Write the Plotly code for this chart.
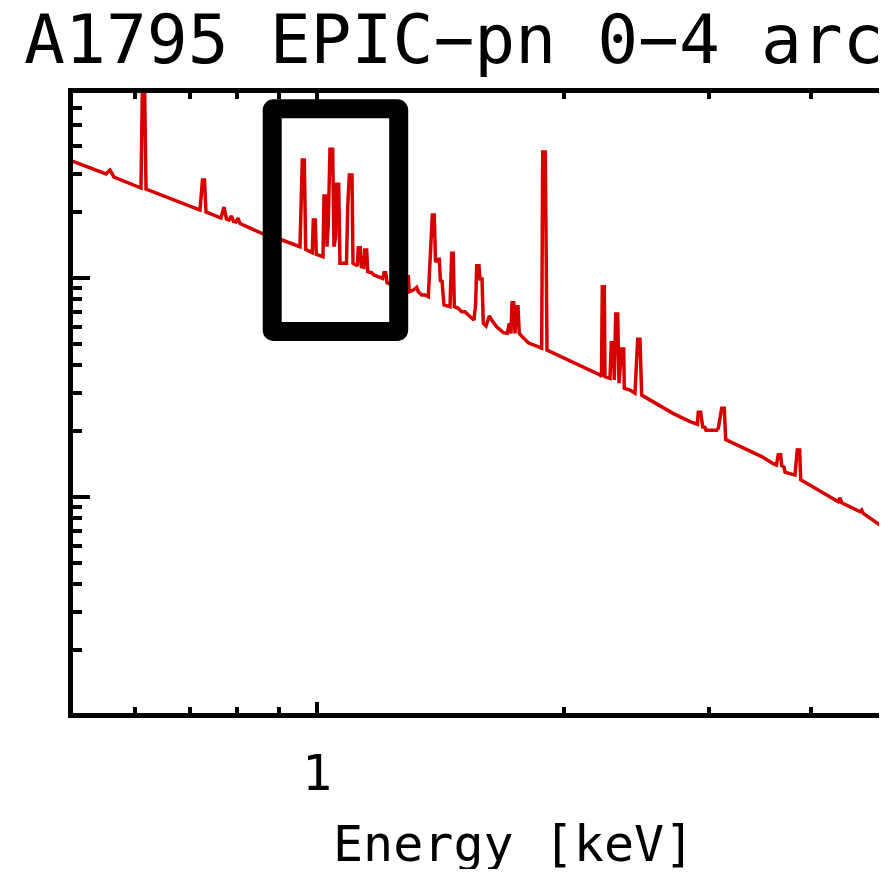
import plotly.graph_objects as go

# ---------------- data ----------------
energy_kev = [
    0.500, 0.5533, 0.5596, 0.5659, 0.6104, 0.6130, 0.6165, 0.6191,
    0.7203, 0.7253, 0.7294, 0.7325, 0.7640, 0.7704, 0.7758, 0.7813,
    0.7868, 0.7912, 0.7968, 0.8013, 0.8058, 0.8571, 0.9065, 0.9534,
    0.9596, 0.9650, 0.9688, 0.9806, 0.9869, 0.9897, 0.9952, 0.9980,
    1.0133, 1.0170, 1.0198, 1.0256, 1.0284, 1.0322, 1.0371, 1.0450,
    1.0488, 1.0538, 1.0568, 1.0628, 1.0666, 1.0863, 1.0900, 1.0949,
    1.1032, 1.1063, 1.1156, 1.1197, 1.1228, 1.1291, 1.1323, 1.1400,
    1.1432, 1.1496, 1.1528, 1.1659, 1.1734, 1.1876, 1.2024, 1.2068,
    1.2125, 1.2170, 1.2445, 1.2870, 1.2917, 1.2953, 1.3101, 1.3227,
    1.3286, 1.3414, 1.3538, 1.3664, 1.3818, 1.3896, 1.3943, 1.4029,
    1.4092, 1.4139, 1.4198, 1.4278, 1.4521, 1.4590, 1.4656, 1.4697,
    1.4863, 1.5005, 1.5145, 1.5286, 1.5532, 1.5606, 1.5650, 1.5751,
    1.5796, 1.5885, 1.5943, 1.6064, 1.6213, 1.6322, 1.6553, 1.6862,
    1.7052, 1.7148, 1.7230, 1.7279, 1.7361, 1.7425, 1.7488, 1.7572,
    1.7636, 1.7785, 1.7921, 1.8087, 1.8780, 1.8833, 1.8971, 1.9062,
    2.2116, 2.2209, 2.2259, 2.2384, 2.2428, 2.2745, 2.2828, 2.2956,
    2.3021, 2.3111, 2.3242, 2.3326, 2.3503, 2.3636, 2.3675, 2.4057,
    2.4396, 2.4582, 2.4741, 2.4859, 2.7140, 2.8466, 2.9071, 2.9136,
    2.9333, 2.9498, 2.9689, 2.9772, 3.0680, 3.0818, 3.1113, 3.1340,
    3.1464, 3.4807, 3.5957, 3.6281, 3.6464, 3.6711, 3.6815, 3.7053,
    3.7157, 3.8214, 3.8461, 3.8720, 3.8829, 4.3148, 4.3354, 4.3562,
    4.5856, 4.6075, 4.6282, 4.8501, 4.8733, 4.9463, 5.1299,
]

model_flux = [
    0.345, 0.2985, 0.3113, 0.2892, 0.2576, 0.80, 0.80, 0.2549,
    0.2044, 0.2802, 0.2802, 0.2002, 0.1879, 0.2110, 0.1860, 0.1840,
    0.1919, 0.1811, 0.1802, 0.1879, 0.1774, 0.1597, 0.1491, 0.1390,
    0.3458, 0.3458, 0.1352, 0.1319, 0.1305, 0.1840, 0.1840, 0.1283,
    0.1264, 0.1251, 0.2368, 0.2368, 0.1390, 0.1777, 0.3870, 0.3870,
    0.1390, 0.1544, 0.2678, 0.2678, 0.1167, 0.1167, 0.2116, 0.2953,
    0.2953, 0.1167, 0.1147, 0.1135, 0.1375, 0.1375, 0.1126, 0.1119,
    0.1342, 0.1342, 0.1069, 0.1057, 0.1032, 0.1014, 0.0997, 0.1057,
    0.1057, 0.0952, 0.0919, 0.0881, 0.1032, 0.0866, 0.0881, 0.0907,
    0.0866, 0.0836, 0.0836, 0.0821, 0.1939, 0.1939, 0.1183, 0.1217,
    0.1217, 0.0959, 0.0979, 0.0753, 0.0740, 0.1297, 0.1297, 0.0740,
    0.0727, 0.0702, 0.0702, 0.0678, 0.0643, 0.0766, 0.1138, 0.1138,
    0.0990, 0.0990, 0.0621, 0.0604, 0.0671, 0.0643, 0.0599, 0.0563,
    0.0559, 0.0621, 0.0559, 0.0771, 0.0771, 0.0559, 0.0740, 0.0740,
    0.0559, 0.0539, 0.0525, 0.0506, 0.0478, 0.3761, 0.3761, 0.0469,
    0.0361, 0.0355, 0.0913, 0.0913, 0.0354, 0.0348, 0.0506, 0.0506,
    0.0342, 0.0685, 0.0685, 0.0331, 0.0474, 0.0474, 0.0314, 0.0308,
    0.0298, 0.0525, 0.0525, 0.0292, 0.0241, 0.0221, 0.0215, 0.0244,
    0.0244, 0.0209, 0.0208, 0.0202, 0.0202, 0.0206, 0.0254, 0.0254,
    0.0183, 0.0153, 0.0142, 0.0140, 0.0156, 0.0156, 0.0139, 0.0137,
    0.0130, 0.0126, 0.0164, 0.0164, 0.0120, 0.00952, 0.00993, 0.00942,
    0.00857, 0.00872, 0.00842, 0.00745, 0.00745, 0.00687, 0.00630,
]

x_major_ticks = [1, 10]
x_major_labels = ["1", "10"]
x_minor_ticks = [0.6, 0.7, 0.8, 0.9, 2, 3, 4, 5, 6, 7, 8, 9]
y_major_ticks = [0.001, 0.01, 0.1, 1]
y_minor_ticks = [0.002, 0.003, 0.004, 0.005, 0.006, 0.007, 0.008, 0.009,
                 0.02, 0.03, 0.04, 0.05, 0.06, 0.07, 0.08, 0.09,
                 0.2, 0.3, 0.4, 0.5, 0.6, 0.7, 0.8, 0.9]

title_text = "A1795 EPIC\u2212pn 0\u22124 arcmin"
x_title = "Energy [keV]"

FONT = "DejaVu Sans Mono"
RED = "rgb(215,0,0)"

W, H = 879, 861  # page body has an 8px margin

fig = go.Figure()
fig.add_trace(go.Scatter(
    x=energy_kev, y=model_flux, mode="lines",
    line=dict(color=RED, width=3.5), showlegend=False, hoverinfo="skip",
))

# highlight box around the Fe-L complex (paper coordinates, rounded corners)
x0, x1, yt, yb = 0.24472, 0.40012, 0.97452, 0.61532
rx, ry = 0.00184, 0.00242
box_path = (
    f"M {x0+rx},{yt} L {x1-rx},{yt} Q {x1},{yt} {x1},{yt-ry} "
    f"L {x1},{yb+ry} Q {x1},{yb} {x1-rx},{yb} "
    f"L {x0+rx},{yb} Q {x0},{yb} {x0},{yb+ry} "
    f"L {x0},{yt-ry} Q {x0},{yt} {x0+rx},{yt} Z"
)
fig.add_shape(type="path", path=box_path, xref="paper", yref="paper",
              line=dict(color="black", width=19), fillcolor="rgba(0,0,0,0)")

# x-axis title (centred on the full, uncropped axis as in the original)
fig.add_annotation(text=x_title, xref="paper", yref="paper",
                   x=0.5412, xanchor="center", y=-0.2113, yanchor="middle",
                   showarrow=False,
                   font=dict(family=FONT, size=50, color="black"))

fig.update_layout(
    width=W, height=H,
    margin=dict(l=65, r=0, t=85, b=156, pad=0),
    paper_bgcolor="white", plot_bgcolor="white",
    font=dict(family=FONT, color="black"),
    title=dict(text=title_text, font=dict(family=FONT, size=68, color="black"),
               xref="container", yref="container",
               x=16 / W, xanchor="left", y=1 - 7 / H, yanchor="top"),
    showlegend=False,
)

fig.update_xaxes(
    type="log", range=[-0.2972, 0.6943],
    showline=True, linecolor="black", linewidth=5, mirror="ticks",
    showgrid=False, zeroline=False,
    ticks="inside", ticklen=11, tickwidth=4, tickcolor="black",
    tickmode="array", tickvals=x_major_ticks, ticktext=x_major_labels,
    tickfont=dict(family=FONT, size=50, color="black"),
    ticklabelstandoff=12,
    minor=dict(ticks="inside", ticklen=6, tickwidth=4, tickcolor="black",
               tickmode="array", tickvals=x_minor_ticks, showgrid=False),
)

fig.update_yaxes(
    type="log", range=[-2.986, -0.1553],
    showline=True, linecolor="black", linewidth=5, mirror=False,
    showgrid=False, zeroline=False,
    ticks="inside", ticklen=17, tickwidth=4, tickcolor="black",
    tickmode="array", tickvals=y_major_ticks, showticklabels=False,
    minor=dict(ticks="inside", ticklen=9, tickwidth=4, tickcolor="black",
               tickmode="array", tickvals=y_minor_ticks, showgrid=False),
)

fig.write_html("out.html")
